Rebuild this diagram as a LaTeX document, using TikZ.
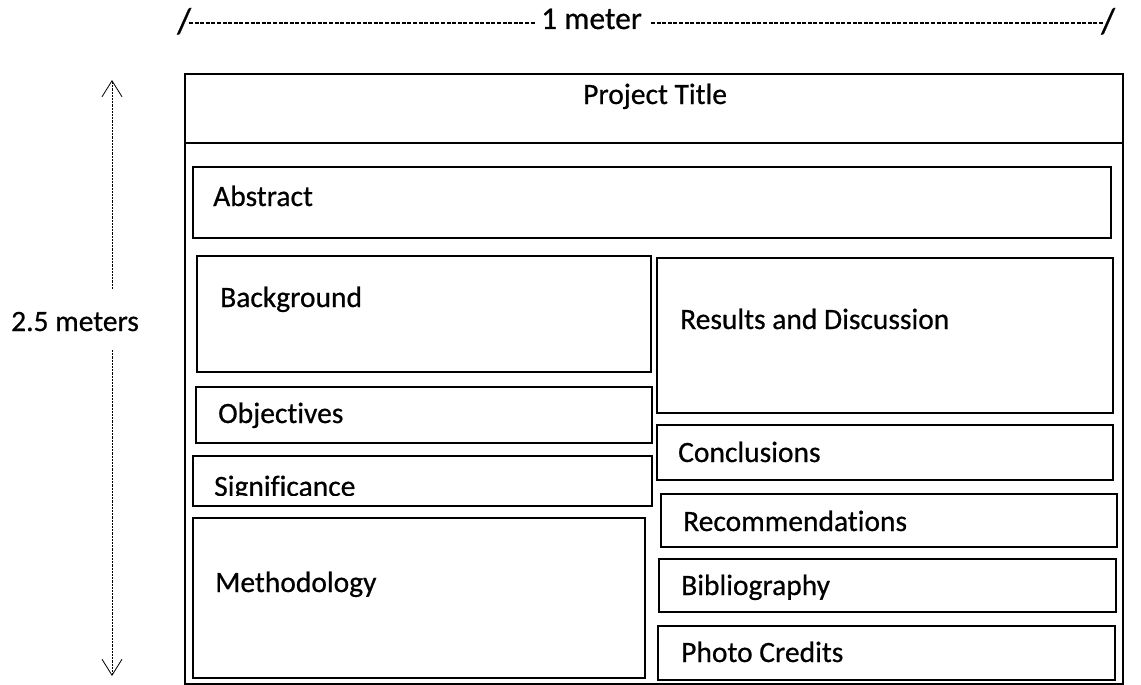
\documentclass[tikz,border=0pt]{standalone}
\usepackage{fontspec}
\setmainfont{Carlito}[FakeBold=0.6, Ligatures={NoCommon,NoContextual}]
\usetikzlibrary{arrows.meta}

% A framed panel given by its top-left and bottom-right corners (y grows downward)
\newcommand{\panel}[6][panelbox]{%
  \node[#1, anchor=north west, minimum width={(#5)-(#3)}, minimum height={(#6)-(#4)}]
    (#2) at (#3,#4) {};}

\begin{document}
\begin{tikzpicture}[x=1pt, y=-1pt,
  panelbox/.style={draw=black, line width=2.2pt, inner sep=0pt, outer sep=0pt},
  framebox/.style={draw=black, line width=1.2pt, inner sep=0pt, outer sep=0pt},
  lbl/.style={anchor=base west, inner sep=0pt, font=\fontsize{29.5}{35}\selectfont},
  toplbl/.style={anchor=base west, inner sep=0pt, font=\fontsize{31.5}{37}\selectfont},
  measure/.style={line width=0.8pt, dash pattern=on 2.2pt off 1pt},
  rule/.style={line width=1.2pt, dash pattern=on 4pt off 1.6pt}]

\useasboundingbox (0,0) rectangle (1141,685);

% ---- width marker ----
\node[toplbl, font=\fontsize{36}{40}\selectfont] (slashL) at (177,33) {/};
\node[toplbl] (meter)  at (541,29) {1 meter};
\node[toplbl, font=\fontsize{36}{40}\selectfont] (slashR) at (1101,33) {/};
\coordinate (dL1) at (189,23);
\coordinate (dL2) at (536,23);
\coordinate (dR1) at (651,23);
\coordinate (dR2) at (1104,23);
\draw[rule] (dL1) -- (dL2);
\draw[rule] (dR1) -- (dR2);

% ---- height marker ----
\node[lbl, anchor=base] (height) at (75,331) {2.5 meters};
\coordinate (topTip) at (112,80);
\coordinate (gapTop) at (112,289);
\coordinate (gapBot) at (112,350);
\coordinate (botTip) at (112,676);
\draw[measure, -{Straight Barb[length=16pt, width=20pt, line width=0.8pt]}] (gapTop) -- (topTip);
\draw[measure, -{Straight Barb[length=16pt, width=20pt, line width=0.8pt]}] (gapBot) -- (botTip);

% ---- poster frame and title band ----
\panel[framebox]{poster}{185}{74}{1123}{684}
\coordinate (bandL) at (185,143);
\coordinate (bandR) at (1123,143);
\draw[line width=1.2pt] (bandL) -- (bandR);
\node[lbl] (title) at (583,104) {Project Title};

% ---- sections ----
\panel{abstract}{193}{167}{1111}{238}
\node[lbl] (tAbstract) at (213,206) {Abstract};

\panel{background}{197}{256}{651}{372}
\node[lbl] (tBackground) at (220,307) {Background};

\panel{objectives}{196}{387}{652}{443}
\node[lbl] (tObjectives) at (218,423) {Objectives};

\panel{significance}{193}{456}{652}{506}
\begin{scope}
  \clip (193,456) rectangle (652,495);
  \node[lbl] (tSignificance) at (214,496) {Significance};
\end{scope}

\panel{methodology}{193}{518}{645}{678}
\node[lbl] (tMethodology) at (215,592) {Methodology};

\panel{results}{657}{258}{1113}{413}
\node[lbl] (tResults) at (680,329) {Results and Discussion};

\panel{conclusions}{657}{425}{1113}{480}
\node[lbl] (tConclusions) at (678,462) {Conclusions};

\panel{recommend}{661}{494}{1117}{547}
\node[lbl] (tRecommend) at (683,531) {Recommendations};

\panel{biblio}{659}{559}{1116}{612}
\node[lbl] (tBiblio) at (681,595) {Bibliography};

\panel{credits}{658}{626}{1115}{680}
\node[lbl] (tCredits) at (681,662) {Photo Credits};

\end{tikzpicture}
\end{document}
